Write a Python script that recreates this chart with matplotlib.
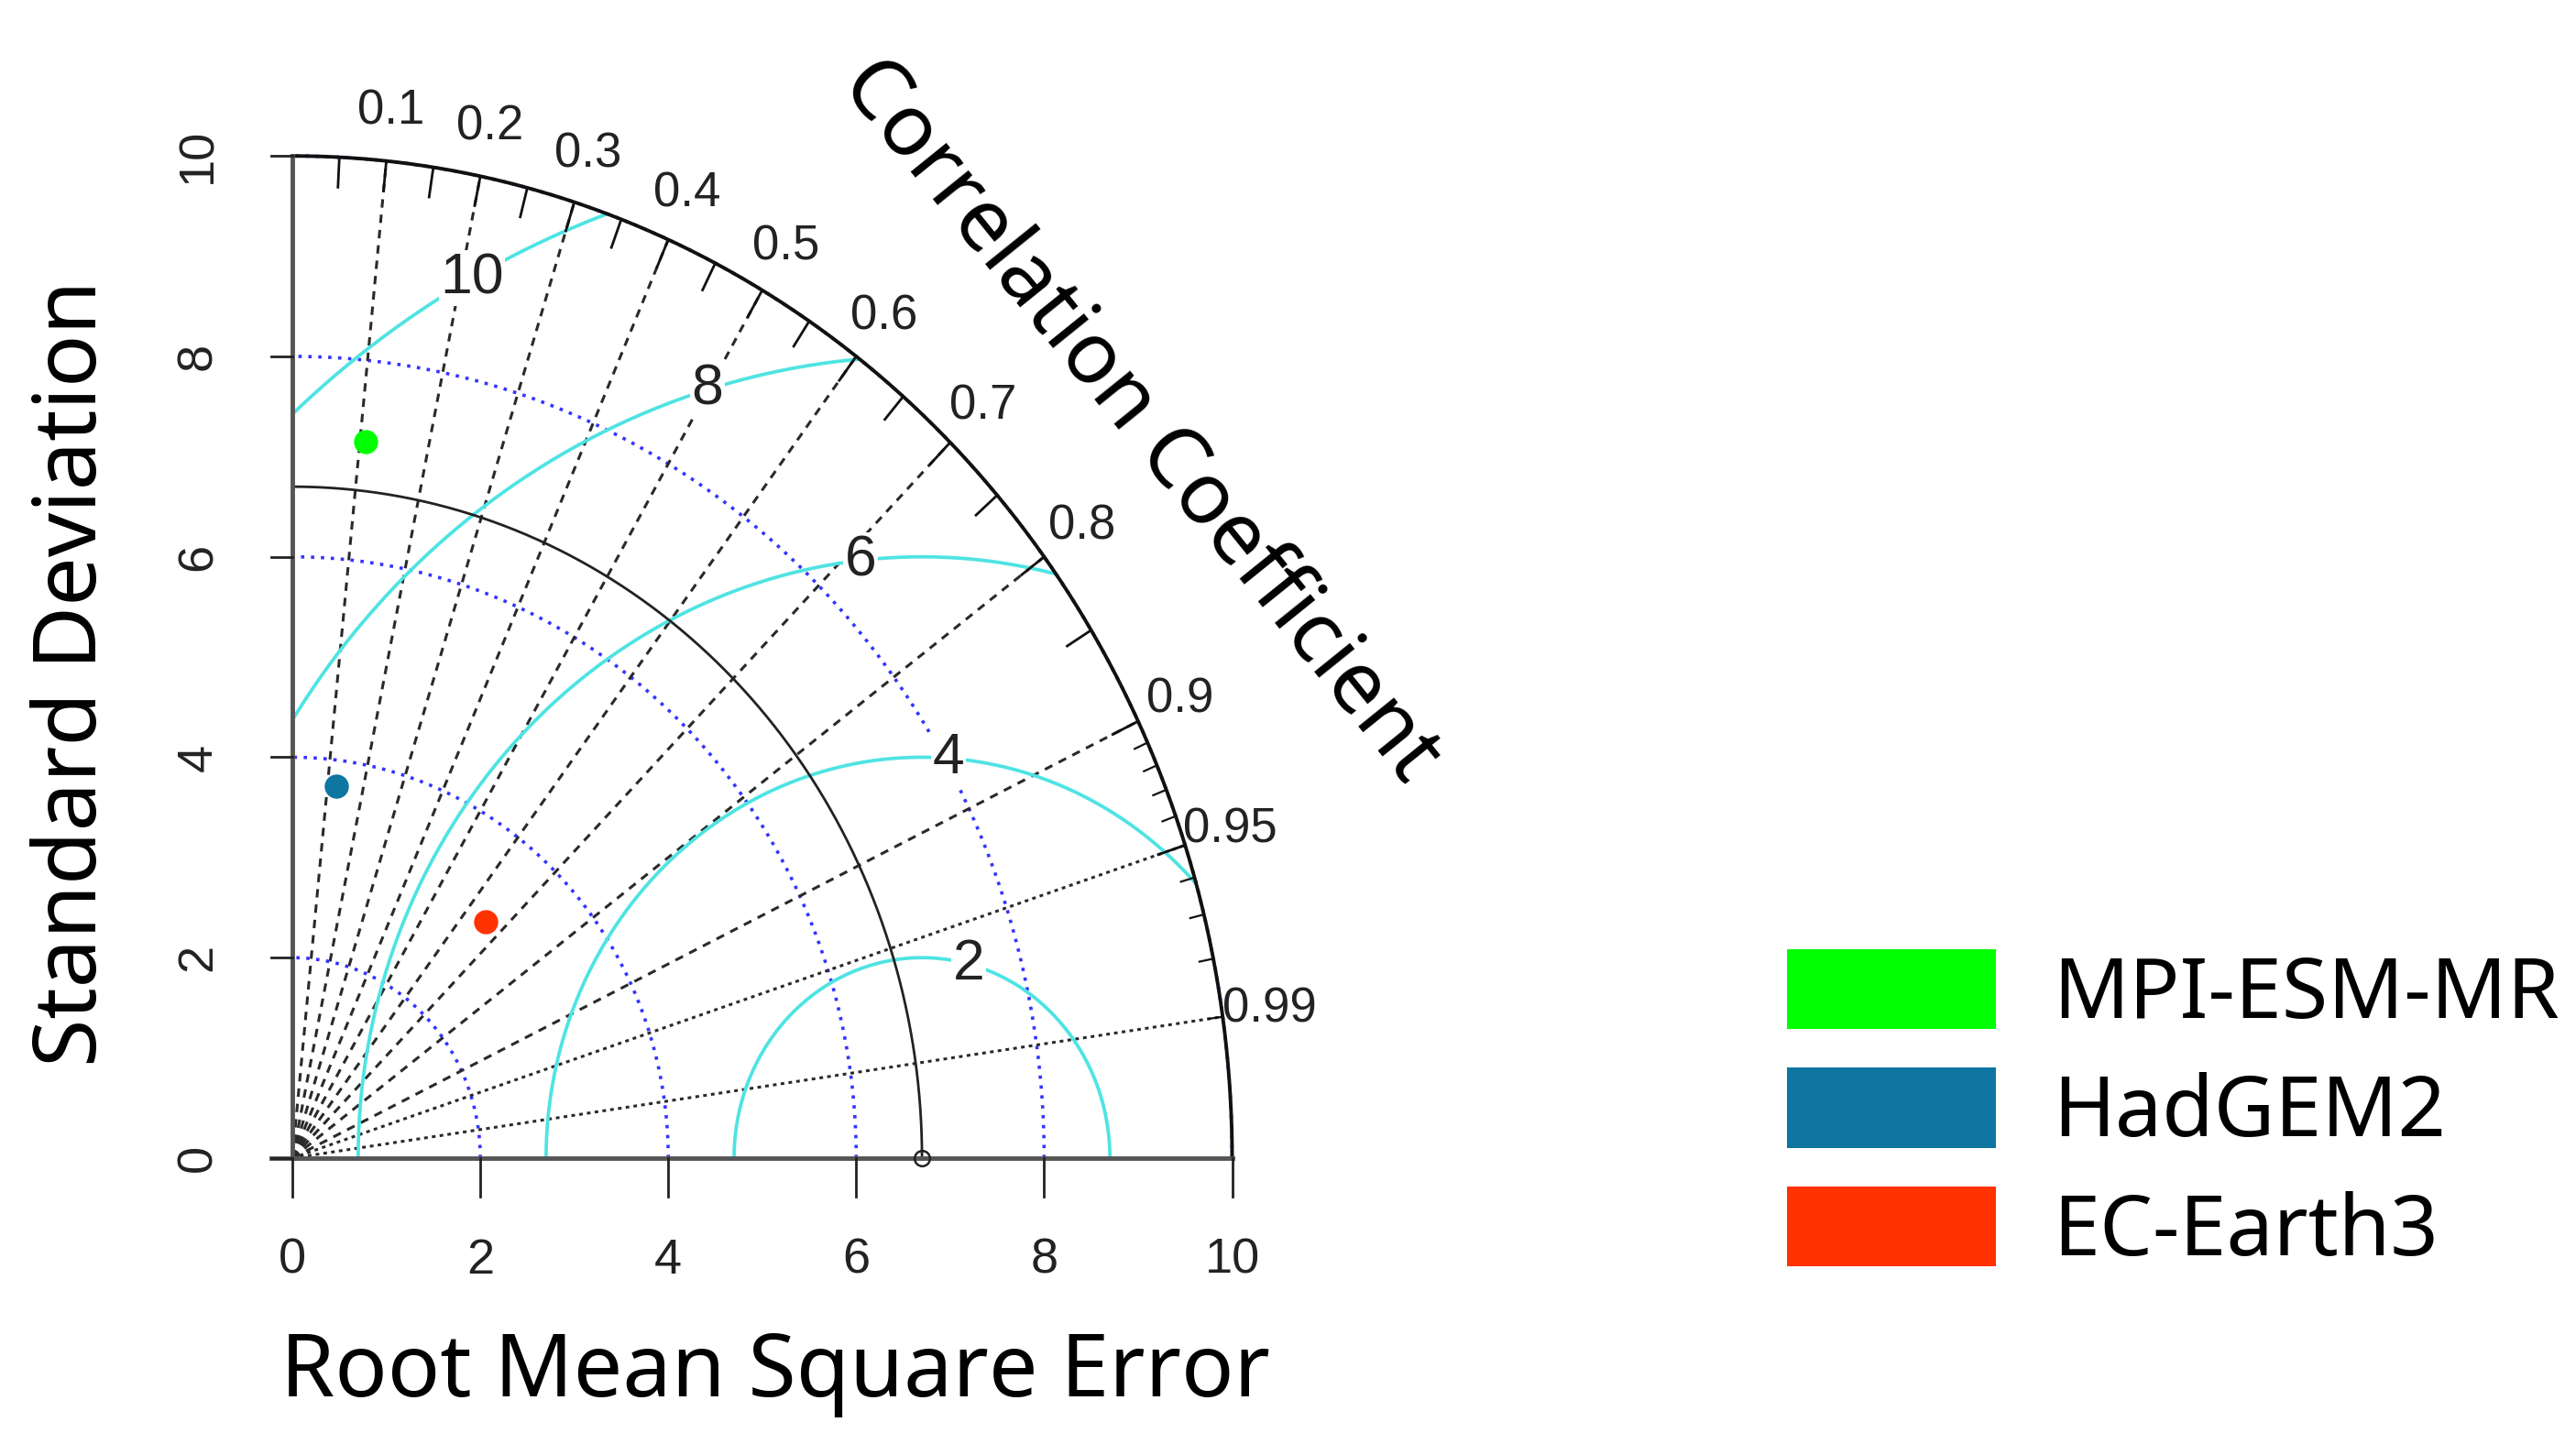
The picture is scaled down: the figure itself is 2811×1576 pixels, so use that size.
import numpy as np
import matplotlib.pyplot as plt
from matplotlib.patches import Patch

# Taylor-diagram values
models = ["MPI-ESM-MR", "HadGEM2", "EC-Earth3"]
model_sd = [7.19, 3.74, 3.13]
model_cor = [0.108, 0.126, 0.656]
model_colors = ["#00ff00", "#0e76a0", "#ff3300"]

ref_sd = 6.7
sd_max = 10
sd_ticks = [0, 2, 4, 6, 8, 10]
sd_arcs = [2, 4, 6, 8, 10]
rms_levels = [2, 4, 6, 8, 10]
cor_labels = [0.1, 0.2, 0.3, 0.4, 0.5, 0.6, 0.7, 0.8, 0.9, 0.95, 0.99]

tick_font = "Liberation Sans"
title_font = "Noto Sans"

fig = plt.figure(figsize=(28.11, 15.76), dpi=100)
ax = fig.add_axes([0.1135, 0.198, 0.3648, 0.694])
ax.set_xlim(0, sd_max)
ax.set_ylim(0, sd_max)
ax.axis("off")

theta = np.linspace(0, np.pi / 2, 500)

# blue dotted sd arcs
for r in sd_arcs:
    ax.plot(r * np.cos(theta), r * np.sin(theta), color="#3434ff", lw=2.6,
            ls=(0, (1, 2)), clip_on=False)

# radial correlation lines
for c in cor_labels:
    a = np.arccos(c)
    ls = (0, (3, 2.5)) if c <= 0.9 else (0, (1.3, 1.5))
    ax.plot([0, sd_max * np.cos(a)], [0, sd_max * np.sin(a)], color="#2a2a2a",
            lw=2.2, ls=ls, clip_on=False)

# centred RMS contours around the reference point
phi = np.linspace(0, np.pi, 800)
label_idx = np.floor(np.linspace(45, 70, len(rms_levels)))
for r, idx in zip(rms_levels, label_idx):
    xc = ref_sd + r * np.cos(phi)
    yc = r * np.sin(phi)
    ok = (xc >= 0) & (xc ** 2 + yc ** 2 <= sd_max ** 2)
    ax.plot(np.where(ok, xc, np.nan), np.where(ok, yc, np.nan), color="#4fe3e3",
            lw=2.7, clip_on=False)
    ang = (idx - 1) * 0.03
    ax.text(ref_sd + r * np.cos(ang), r * np.sin(ang), str(r), fontsize=45,
            family=tick_font, color="#222222", ha="center", va="center",
            bbox=dict(facecolor="white", edgecolor="none", pad=1))

# outer arc and reference arc
ax.plot(sd_max * np.cos(theta), sd_max * np.sin(theta), color="#111111", lw=2.8,
        clip_on=False)
ax.plot(ref_sd * np.cos(theta), ref_sd * np.sin(theta), color="#222222", lw=2,
        clip_on=False)

# correlation ticks on the outer arc
for c in np.arange(0.05, 0.951, 0.05):
    a = np.arccos(c)
    ax.plot([sd_max * np.cos(a), 0.97 * sd_max * np.cos(a)],
            [sd_max * np.sin(a), 0.97 * sd_max * np.sin(a)], color="#111111",
            lw=2, clip_on=False)
for c in np.arange(0.91, 0.995, 0.01):
    a = np.arccos(c)
    ax.plot([sd_max * np.cos(a), 0.985 * sd_max * np.cos(a)],
            [sd_max * np.sin(a), 0.985 * sd_max * np.sin(a)], color="#111111",
            lw=1.6, clip_on=False)
for c in cor_labels:
    a = np.arccos(c)
    ax.text(1.05 * sd_max * np.cos(a), 1.05 * sd_max * np.sin(a), str(c),
            fontsize=38, family=tick_font, color="#222222", ha="center", va="center")

# axes lines, ticks and labels
ax.plot([0, 0], [0, sd_max], color="#555555", lw=3.5, clip_on=False)
ax.plot([-0.22, sd_max], [0, 0], color="#555555", lw=3.5, clip_on=False)
for t in sd_ticks:
    ax.plot([-0.22, 0], [t, t], color="#222222", lw=2, clip_on=False)
    ax.text(-1.0, t, str(t), fontsize=39, family=tick_font, color="#222222",
            rotation=90, ha="center", va="center")
    ax.plot([t, t], [0, -0.38], color="#222222", lw=2, clip_on=False)
    ax.text(t, -1.02, str(t), fontsize=39, family=tick_font, color="#222222",
            ha="center", va="center")

# reference point and models
ax.plot(ref_sd, 0, "o", mfc="none", mec="#222222", ms=12, mew=1.8, clip_on=False)
for sd, c, col in zip(model_sd, model_cor, model_colors):
    a = np.arccos(c)
    ax.plot(sd * np.cos(a), sd * np.sin(a), "o", color=col, ms=18, clip_on=False)

# titles
fig.text(0.0288, 0.5336, "Standard Deviation", family=title_font, fontsize=68.5,
         rotation=90, ha="center", va="center")
fig.text(0.301, 0.033, "Root Mean Square Error", family=title_font, fontsize=68.5,
         ha="center", va="baseline")
fig.text(0.4425, 0.709, "Correlation Coefficient", family=title_font, fontsize=67,
         rotation=-51.1, rotation_mode="anchor", ha="center", va="center")

# legend
handles = [Patch(facecolor=col, edgecolor="none") for col in model_colors]
fig.legend(handles, models, loc="upper left", bbox_to_anchor=(0.6937, 0.3426),
           frameon=False, prop={"family": title_font, "size": 66},
           handlelength=2.49, handleheight=1.09, labelspacing=0.355,
           handletextpad=0.68, borderpad=0, borderaxespad=0)

fig.savefig("out.png", dpi=100, facecolor="white")
